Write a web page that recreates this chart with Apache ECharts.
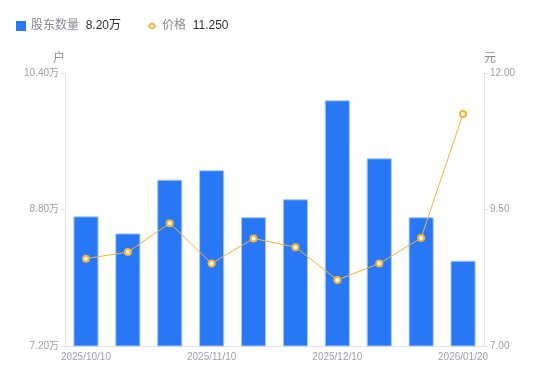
<!DOCTYPE html>
<html>
<head>
<meta charset="utf-8">
<script src="https://cdn.jsdelivr.net/npm/echarts@6/dist/echarts.min.js"></script>
<style>html,body{margin:0;padding:0;background:#fff}#c{width:550px;height:381px}</style>
</head>
<body>
<div id="c"></div>
<script>
var categories = ['2025/10/10','2025/10/20','2025/10/31','2025/11/10','2025/11/20','2025/11/28','2025/12/10','2025/12/19','2025/12/31','2026/01/20'];
var holders = [8.72, 8.52, 9.15, 9.26, 8.71, 8.92, 10.08, 9.40, 8.71, 8.20];
var prices = [8.60, 8.72, 9.25, 8.51, 8.97, 8.81, 8.21, 8.51, 8.98, 11.25];
var leftTicks = [7.2, 10.4, 1.6];
var rightTicks = [7, 12, 2.5];

var chart = echarts.init(document.getElementById('c'));
var font = 'Liberation Sans, Noto Sans CJK SC, sans-serif';
var ringIcon = 'path://M0,4.5H1.75A3.3,3.3 0 0 1 8.25,4.5H10V5.5H8.25A3.3,3.3 0 0 1 1.75,5.5H0Z' +
  'M5,3.4A1.6,1.6 0 0 0 5,6.6A1.6,1.6 0 0 0 5,3.4Z';
chart.setOption({
  animation: false,
  textStyle: { fontFamily: font },
  legend: {
    left: 11, top: 15,
    itemWidth: 10, itemHeight: 10, itemGap: 26,
    data: [
      { name: '股东数量', icon: 'path://M0,0H10V10H0Z', itemStyle: { color: '#2878f5', borderWidth: 0 } },
      { name: '价格', icon: ringIcon, itemStyle: { color: '#f8b133', borderWidth: 0 } }
    ],
    formatter: function (n) {
      if (n === '股东数量') return '{a|' + n + '}  {b|' + holders[holders.length - 1].toFixed(2) + '万}';
      return '{a|' + n + '}  {b|' + prices[prices.length - 1].toFixed(3) + '}';
    },
    textStyle: {
      rich: {
        a: { color: '#8a8a99', fontSize: 12, fontFamily: font },
        b: { color: '#333', fontSize: 12, fontFamily: font }
      }
    }
  },
  grid: { left: 65, right: 66, top: 73, bottom: 35 },
  xAxis: {
    type: 'category',
    data: categories,
    axisLine: { lineStyle: { color: '#e3e3e6' } },
    axisTick: { show: false },
    axisLabel: { interval: 2, color: '#a0a0b0', fontSize: 10, margin: 6 }
  },
  yAxis: [
    {
      type: 'value', name: '户', min: leftTicks[0], max: leftTicks[1], interval: leftTicks[2],
      nameTextStyle: { color: '#8a8a99', fontSize: 12, padding: [0, 12, 0, 0] }, nameGap: 8,
      axisLine: { show: true, lineStyle: { color: '#e3e3e6' } },
      axisTick: { show: true, length: 4, lineStyle: { color: '#e3e3e6' } },
      splitLine: { show: false },
      axisLabel: { color: '#a0a0b0', fontSize: 10, margin: 6, formatter: function (v) { return v.toFixed(2) + '万'; } }
    },
    {
      type: 'value', name: '元', min: rightTicks[0], max: rightTicks[1], interval: rightTicks[2],
      nameTextStyle: { color: '#8a8a99', fontSize: 12, padding: [0, 0, 0, 12] }, nameGap: 8,
      axisLine: { show: true, lineStyle: { color: '#e3e3e6' } },
      axisTick: { show: true, length: 4, lineStyle: { color: '#e3e3e6' } },
      splitLine: { show: false },
      axisLabel: { color: '#a0a0b0', fontSize: 10, margin: 6, formatter: function (v) { return v.toFixed(2); } }
    }
  ],
  series: [
    {
      name: '股东数量', type: 'bar', yAxisIndex: 0, data: holders, barWidth: '60%',
      itemStyle: { color: '#2878f5', borderColor: '#a8c8f9', borderWidth: 1 }
    },
    {
      name: '价格', type: 'line', yAxisIndex: 1, data: prices,
      symbol: 'emptyCircle', symbolSize: 6,
      lineStyle: { color: '#f8b133', width: 1 },
      itemStyle: { color: '#f8b133', borderWidth: 2 }
    }
  ]
});
</script>
</body>
</html>
